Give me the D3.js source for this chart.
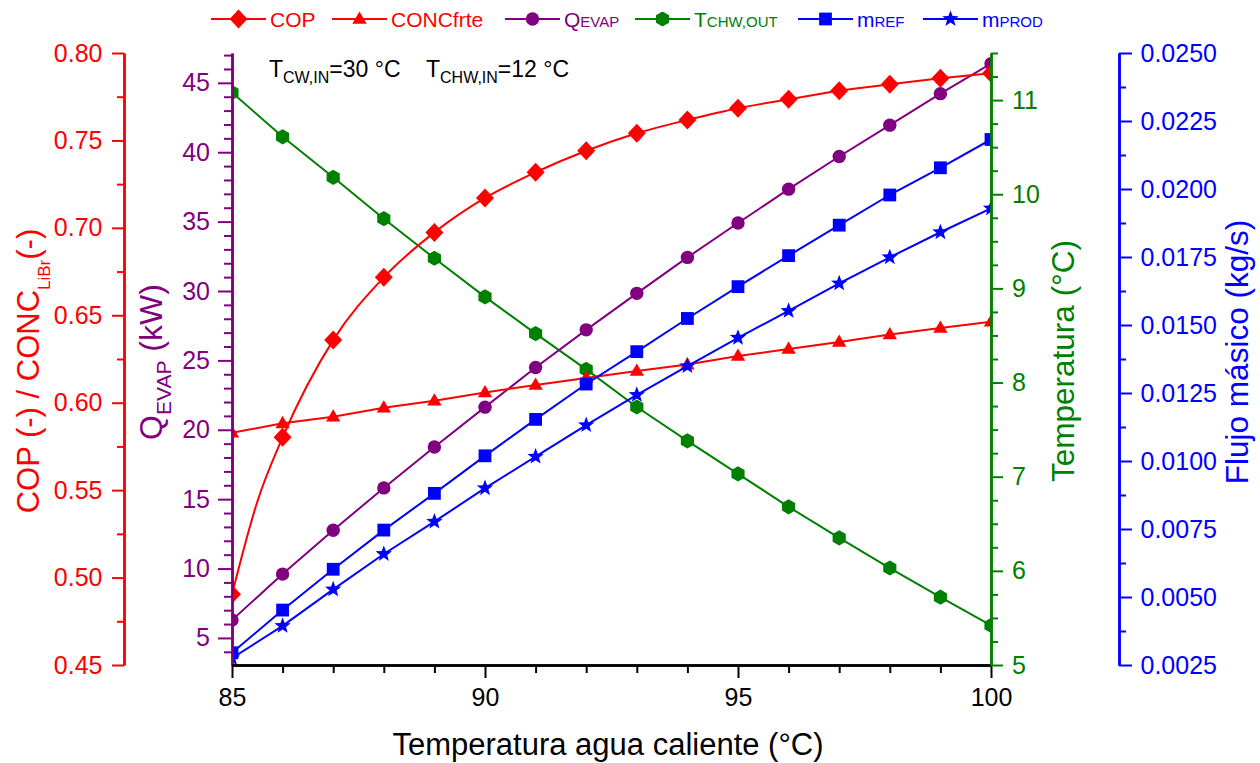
<!DOCTYPE html>
<html>
<head>
<meta charset="utf-8">
<script src="https://cdn.jsdelivr.net/npm/d3@7"></script>
<style>
  html, body { margin: 0; padding: 0; background: #ffffff; }
  svg { display: block; font-family: "Liberation Sans", Arial, Helvetica, sans-serif; }
</style>
</head>
<body>
<svg id="chart" width="1260" height="763"></svg>
<script>
// ---- Data: hot-water inlet temperature sweep (°C) ----
const hotWaterTemp = [85, 86, 87, 88, 89, 90, 91, 92, 93, 94, 95, 96, 97, 98, 99, 100];

// Coefficient of performance (-)
const cop = [0.4904, 0.5802, 0.6358, 0.6717, 0.6974, 0.7171, 0.7318, 0.7441,
             0.7541, 0.7617, 0.7684, 0.7735, 0.7784, 0.7821, 0.7855, 0.7884];
// COP curve also passes through an extra computed point at 85.5 °C
const copCurveTemp = [85, 85.5, 86, 87, 88, 89, 90, 91, 92, 93, 94, 95, 96, 97, 98, 99, 100];
const copCurve = [0.4904, 0.5434, 0.5802, 0.6358, 0.6717, 0.6974, 0.7171, 0.7318, 0.7441,
                  0.7541, 0.7617, 0.7684, 0.7735, 0.7784, 0.7821, 0.7855, 0.7884];
// Strong solution LiBr concentration (-)
const concStrong = [0.5828, 0.5882, 0.5920, 0.5971, 0.6011, 0.6059, 0.6101, 0.6141,
                    0.6181, 0.6218, 0.6267, 0.6307, 0.6347, 0.6390, 0.6427, 0.6463];
// Evaporator capacity (kW)
const qEvap = [6.29, 9.60, 12.76, 15.81, 18.76, 21.63, 24.49, 27.20,
               29.83, 32.42, 34.90, 37.34, 39.69, 41.95, 44.22, 46.38];
// Chilled water outlet temperature (°C)
const tChwOut = [11.08, 10.61, 10.18, 9.74, 9.32, 8.91, 8.52, 8.14,
                 7.74, 7.38, 7.03, 6.68, 6.35, 6.03, 5.72, 5.42];
// Refrigerant mass flow (kg/s)
const mRef = [0.00295, 0.00452, 0.00602, 0.00746, 0.00881, 0.01019, 0.01153, 0.01283,
              0.01402, 0.01524, 0.01641, 0.01755, 0.01867, 0.01978, 0.02078, 0.02182];
// Product mass flow (kg/s)
const mProd = [0.00275, 0.00394, 0.00528, 0.00658, 0.00777, 0.00900, 0.01016, 0.01132,
               0.01243, 0.01349, 0.01453, 0.01552, 0.01653, 0.01749, 0.01841, 0.01929];

// ---- Tick values ----
const xTicks = [85, 90, 95, 100];
const copTicks = [0.45, 0.50, 0.55, 0.60, 0.65, 0.70, 0.75, 0.80];
const qTicks = [5, 10, 15, 20, 25, 30, 35, 40, 45];
const tempTicks = [5, 6, 7, 8, 9, 10, 11];
const flowTicks = [0.0025, 0.0050, 0.0075, 0.0100, 0.0125, 0.0150, 0.0175, 0.0200, 0.0225, 0.0250];

// ---- Layout ----
const W = 1260, H = 763;
const plot = { left: 232, right: 991, top: 53, bottom: 665 };
const RED = "#ff0000", PURPLE = "#800080", GREEN = "#008000", BLUE = "#0000ff", BLACK = "#000000";

const svg = d3.select("#chart");
svg.append("rect").attr("width", W).attr("height", H).attr("fill", "#ffffff");

const x = d3.scaleLinear().domain([85, 100]).range([plot.left, plot.right]);
const yCop = d3.scaleLinear().domain([0.45, 0.80]).range([plot.bottom, plot.top]);
const yQ = d3.scaleLinear().domain([3.05, 47.15]).range([plot.bottom, plot.top]);
const yT = d3.scaleLinear().domain([5, 11.5]).range([plot.bottom, plot.top]);
const yM = d3.scaleLinear().domain([0.0025, 0.025]).range([plot.bottom, plot.top]);

// ---- Marker shapes ----
function starPath(ro, ri) {
  const pts = [];
  for (let i = 0; i < 10; i++) {
    const a = -Math.PI / 2 + i * Math.PI / 5;
    const r = i % 2 === 0 ? ro : ri;
    pts.push([r * Math.cos(a), r * Math.sin(a)]);
  }
  return "M" + pts.map(p => p[0].toFixed(2) + "," + p[1].toFixed(2)).join("L") + "Z";
}
function hexPath(r) {
  const pts = [];
  for (let i = 0; i < 6; i++) {
    const a = -Math.PI / 2 + i * Math.PI / 3;
    pts.push([r * Math.cos(a), r * Math.sin(a)]);
  }
  return "M" + pts.map(p => p[0].toFixed(2) + "," + p[1].toFixed(2)).join("L") + "Z";
}
const markers = {
  diamond: "M0,-9.5L9,0L0,9.5L-9,0Z",
  triangle: "M0,-7.5L7.2,4.8L-7.2,4.8Z",
  circle: d3.symbol(d3.symbolCircle, Math.PI * 6.7 * 6.7)(),
  hexagon: hexPath(7.6),
  square: "M-6.4,-6.4L6.4,-6.4L6.4,6.4L-6.4,6.4Z",
  star: starPath(8.6, 3.6)
};

// ---- Series ----
const series = [
  { key: "tchw", values: tChwOut, y: yT, color: GREEN, marker: "hexagon" },
  { key: "qevap", values: qEvap, y: yQ, color: PURPLE, marker: "circle" },
  { key: "cop", values: cop, y: yCop, color: RED, marker: "diamond",
    lineX: copCurveTemp, lineY: copCurve, curve: d3.curveMonotoneX },
  { key: "conc", values: concStrong, y: yCop, color: RED, marker: "triangle" },
  { key: "mref", values: mRef, y: yM, color: BLUE, marker: "square" },
  { key: "mprod", values: mProd, y: yM, color: BLUE, marker: "star" }
];

svg.append("defs").append("clipPath").attr("id", "plotClip")
  .append("rect")
  .attr("x", plot.left).attr("y", plot.top - 12)
  .attr("width", plot.right - plot.left).attr("height", plot.bottom - plot.top + 12);

const gData = svg.append("g").attr("clip-path", "url(#plotClip)");

series.forEach(s => {
  const lx = s.lineX || hotWaterTemp;
  const ly = s.lineY || s.values;
  const line = d3.line()
    .x((d, i) => x(lx[i]))
    .y(d => s.y(d))
    .curve(s.curve || d3.curveLinear);
  gData.append("path")
    .datum(ly)
    .attr("d", line)
    .attr("fill", "none")
    .attr("stroke", s.color)
    .attr("stroke-width", 2)
    .attr("stroke-linejoin", "round");
  gData.append("g").selectAll("path")
    .data(s.values)
    .join("path")
    .attr("d", markers[s.marker])
    .attr("transform", (d, i) => `translate(${x(hotWaterTemp[i])},${s.y(d)})`)
    .attr("fill", s.color);
});

// ---- Axes ----
function styleAxis(g, color, fontSize) {
  g.select(".domain").attr("stroke", color).attr("stroke-width", 2.5);
  g.selectAll(".tick line").attr("stroke", color).attr("stroke-width", 2);
  g.selectAll(".tick text").attr("fill", color)
    .attr("font-size", fontSize)
    .attr("font-family", '"Liberation Sans", Arial, sans-serif');
}

// Left red axis: COP / concentration
const minorCop = d3.range(0.475, 0.80, 0.05);
svg.append("g").attr("transform", "translate(124,0)")
  .call(d3.axisLeft(yCop).tickValues(minorCop).tickSize(7).tickSizeOuter(0).tickFormat(""))
  .call(g => styleAxis(g, RED, 25));
svg.append("g").attr("transform", "translate(124,0)")
  .call(d3.axisLeft(yCop).tickValues(copTicks).tickSize(12).tickSizeOuter(0)
    .tickPadding(9.5).tickFormat(d3.format(".2f")))
  .call(g => styleAxis(g, RED, 25));

// Purple axis: evaporator capacity
const minorQ = d3.range(4, 48, 1).filter(v => v % 5 !== 0);
svg.append("g").attr("transform", `translate(${plot.left},0)`)
  .call(d3.axisLeft(yQ).tickValues(minorQ).tickSize(8).tickSizeOuter(0).tickFormat(""))
  .call(g => styleAxis(g, PURPLE, 25));
svg.append("g").attr("transform", `translate(${plot.left},0)`)
  .call(d3.axisLeft(yQ).tickValues(qTicks).tickSize(14).tickSizeOuter(0)
    .tickPadding(8).tickFormat(d3.format("d")))
  .call(g => styleAxis(g, PURPLE, 25));

// Bottom axis: hot water temperature
const minorX = d3.range(85, 101, 1).filter(v => v % 5 !== 0);
svg.append("g").attr("transform", `translate(0,${plot.bottom})`)
  .call(d3.axisBottom(x).tickValues(minorX).tickSize(8).tickSizeOuter(0).tickFormat(""))
  .call(g => styleAxis(g, BLACK, 25));
svg.append("g").attr("transform", `translate(0,${plot.bottom})`)
  .call(d3.axisBottom(x).tickValues(xTicks).tickSize(13).tickSizeOuter(0)
    .tickPadding(10.5).tickFormat(d3.format("d")))
  .call(g => styleAxis(g, BLACK, 25));

// Green axis: chilled water temperature
const minorT = d3.range(5.25, 11.51, 0.25).filter(v => Math.abs(v - Math.round(v)) > 1e-6);
svg.append("g").attr("transform", `translate(${plot.right},0)`)
  .call(d3.axisRight(yT).tickValues(minorT).tickSize(7).tickSizeOuter(0).tickFormat(""))
  .call(g => styleAxis(g, GREEN, 25));
svg.append("g").attr("transform", `translate(${plot.right},0)`)
  .call(d3.axisRight(yT).tickValues(tempTicks).tickSize(12).tickSizeOuter(0)
    .tickPadding(9).tickFormat(d3.format("d")))
  .call(g => styleAxis(g, GREEN, 25));

// Blue axis: mass flow
const minorM = d3.range(0.00375, 0.025, 0.0025);
svg.append("g").attr("transform", "translate(1119,0)")
  .call(d3.axisRight(yM).tickValues(minorM).tickSize(7).tickSizeOuter(0).tickFormat(""))
  .call(g => styleAxis(g, BLUE, 25));
svg.append("g").attr("transform", "translate(1119,0)")
  .call(d3.axisRight(yM).tickValues(flowTicks).tickSize(13).tickSizeOuter(0)
    .tickPadding(8.5).tickFormat(d3.format(".4f")))
  .call(g => styleAxis(g, BLUE, 25));

// ---- Axis titles ----
function vTitle(tx, ty, color, parts) {
  const t = svg.append("text")
    .attr("transform", `translate(${tx},${ty}) rotate(-90)`)
    .attr("text-anchor", "middle")
    .attr("fill", color);
  parts.forEach(p => {
    const sp = t.append("tspan").text(p.text).attr("font-size", p.size);
    if (p.dy) sp.attr("dy", p.dy);
  });
}
vTitle(38.5, 371, RED, [
  { text: "COP (-) / CONC", size: 31 },
  { text: "LiBr", size: 17, dy: 11 },
  { text: "(-)", size: 31, dy: -11 }
]);
vTitle(162, 362, PURPLE, [
  { text: "Q", size: 32 },
  { text: "EVAP", size: 21, dy: 9 },
  { text: " (kW)", size: 32, dy: -9 }
]);
vTitle(1074, 361, GREEN, [{ text: "Temperatura (°C)", size: 31.5 }]);
vTitle(1247.5, 352, BLUE, [{ text: "Flujo másico (kg/s)", size: 31.5 }]);

svg.append("text")
  .attr("x", 608).attr("y", 755)
  .attr("text-anchor", "middle")
  .attr("font-size", 31)
  .attr("fill", BLACK)
  .text("Temperatura agua caliente (°C)");

// ---- Operating conditions note ----
function note(xPos, main, sub, rest) {
  const t = svg.append("text").attr("x", xPos).attr("y", 76.7).attr("fill", BLACK).attr("font-size", 23);
  t.append("tspan").text(main);
  t.append("tspan").text(sub).attr("font-size", 16).attr("dy", 6.6);
  t.append("tspan").text(rest).attr("dy", -6.6);
}
note(269, "T", "CW,IN", "=30 °C");
note(426, "T", "CHW,IN", "=12 °C");

// ---- Legend ----
const legendItems = [
  { x: 211, color: RED, marker: "diamond", main: "COP", small: "" },
  { x: 332, color: RED, marker: "triangle", main: "CONCfrte", small: "" },
  { x: 505, color: PURPLE, marker: "circle", main: "Q", small: "EVAP" },
  { x: 635, color: GREEN, marker: "hexagon", main: "T", small: "CHW,OUT" },
  { x: 798, color: BLUE, marker: "square", main: "m", small: "REF" },
  { x: 923, color: BLUE, marker: "star", main: "m", small: "PROD" }
];
const legendY = 19;
const gLeg = svg.append("g");
legendItems.forEach(it => {
  const g = gLeg.append("g").attr("transform", `translate(${it.x},${legendY})`);
  g.append("line").attr("x1", 0).attr("x2", 55).attr("y1", 0).attr("y2", 0)
    .attr("stroke", it.color).attr("stroke-width", 2);
  g.append("path").attr("d", markers[it.marker]).attr("transform", "translate(27.5,0)")
    .attr("fill", it.color);
  const t = g.append("text").attr("x", 59).attr("y", 7.5).attr("fill", it.color).attr("font-size", 21);
  t.append("tspan").text(it.main);
  if (it.small) t.append("tspan").text(it.small).attr("font-size", 15);
});
</script>
</body>
</html>
